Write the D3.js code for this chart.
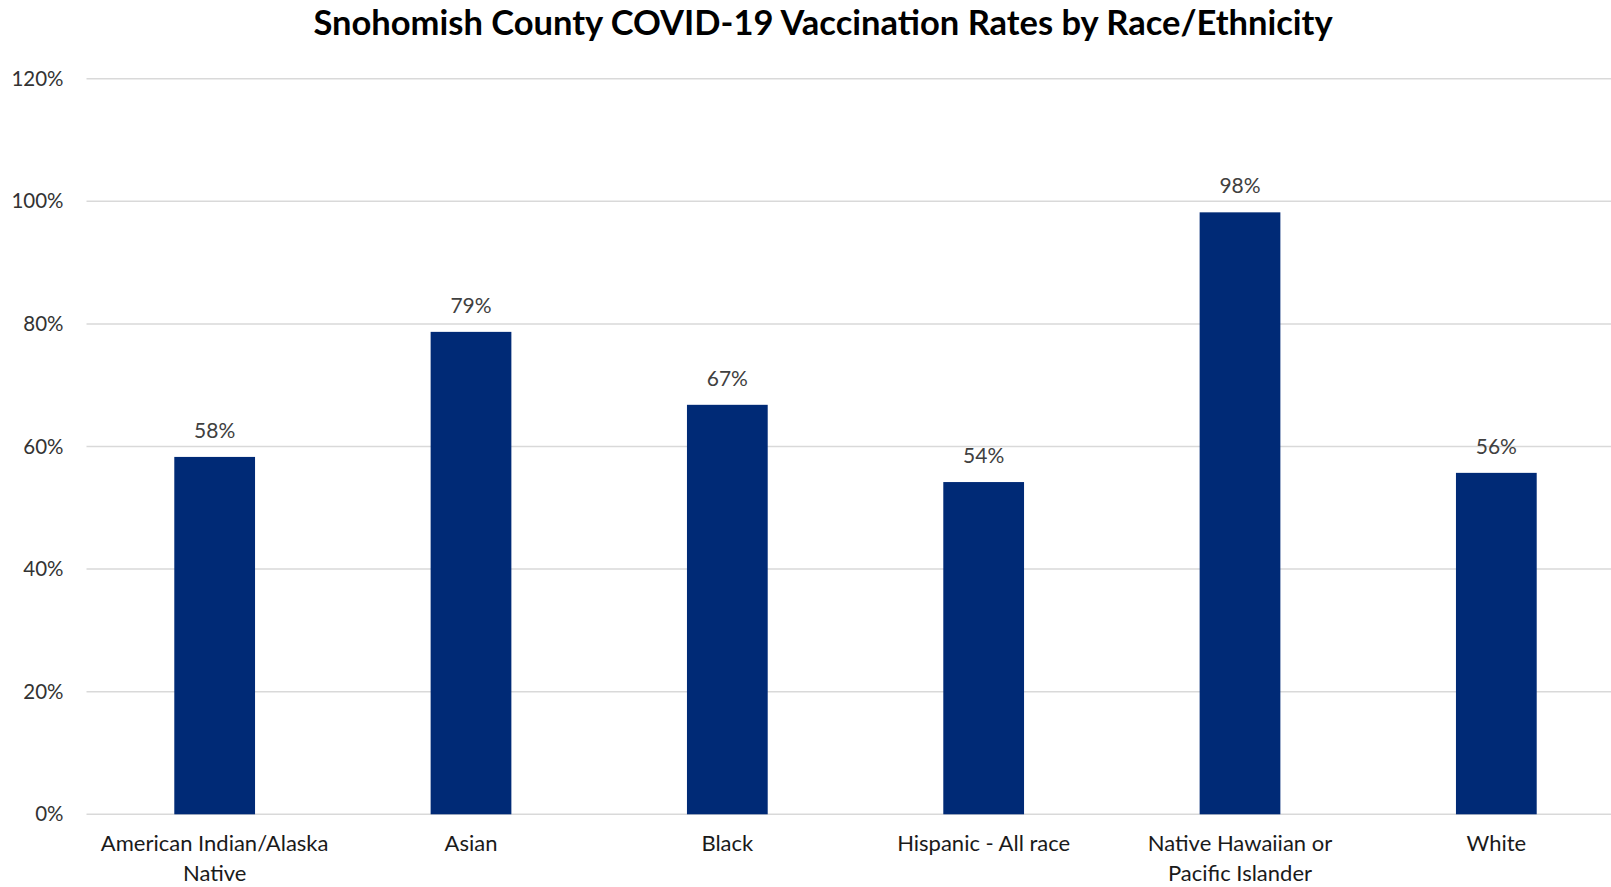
<!DOCTYPE html>
<html>
<head>
<meta charset="utf-8">
<script src="https://cdn.jsdelivr.net/npm/d3@7"></script>
<style>
  body { margin: 0; background: #fff; }
  svg { display: block; font-family: Lato, "Open Sans", sans-serif; }
</style>
</head>
<body>
<div id="chart"></div>
<script>
// data
const categories = ["American Indian/Alaska Native", "Asian", "Black", "Hispanic - All race", "Native Hawaiian or Pacific Islander", "White"];
const categoryLines = [["American Indian/Alaska", "Native"], ["Asian"], ["Black"], ["Hispanic - All race"], ["Native Hawaiian or", "Pacific Islander"], ["White"]];
const rates = [0.583, 0.787, 0.668, 0.542, 0.982, 0.557];
const yTicks = [0, 0.2, 0.4, 0.6, 0.8, 1.0, 1.2];
const titleText = "Snohomish County COVID-19 Vaccination Rates by Race/Ethnicity";

const W = 1611, H = 887;
const margin = { top: 78.7, right: -13.5, bottom: 72.7, left: 86.5 };
const width = W - margin.left - margin.right;
const height = H - margin.top - margin.bottom;

const svg = d3.select("#chart").append("svg")
  .attr("width", W)
  .attr("height", H);

svg.append("text")
  .attr("x", 823)
  .attr("y", 35)
  .attr("text-anchor", "middle")
  .attr("font-weight", 700)
  .attr("font-size", 34.5)
  .attr("fill", "#000")
  .text(titleText);

const g = svg.append("g")
  .attr("transform", `translate(${margin.left},${margin.top})`);

const x = d3.scaleBand()
  .domain(categories)
  .range([0, width])
  .paddingInner(0.685)
  .paddingOuter(0.3425);

const y = d3.scaleLinear()
  .domain([0, 1.2])
  .range([height, 0]);

const pct = d3.format(".0%");

// gridlines
g.append("g")
  .selectAll("line")
  .data(yTicks)
  .join("line")
  .attr("x1", 0)
  .attr("x2", width)
  .attr("y1", d => y(d))
  .attr("y2", d => y(d))
  .attr("stroke", "#d9d9d9")
  .attr("stroke-width", 1.5);

// y axis labels
const yAxis = d3.axisLeft(y).tickValues(yTicks).tickFormat(pct).tickSize(0).tickPadding(23);
g.append("g")
  .call(yAxis)
  .call(s => s.select(".domain").remove())
  .call(s => s.selectAll("text")
    .attr("font-family", "Lato, sans-serif")
    .attr("font-size", 20.5)
    .attr("fill", "#333"));

// bars
g.append("g")
  .selectAll("rect")
  .data(rates)
  .join("rect")
  .attr("x", (d, i) => x(categories[i]))
  .attr("width", x.bandwidth())
  .attr("y", d => y(d))
  .attr("height", d => y(0) - y(d))
  .attr("fill", "#002a76");

// value labels
g.append("g")
  .selectAll("text")
  .data(rates)
  .join("text")
  .attr("x", (d, i) => x(categories[i]) + x.bandwidth() / 2)
  .attr("y", d => y(d) - 19)
  .attr("text-anchor", "middle")
  .attr("font-size", 21)
  .attr("fill", "#404040")
  .text(d => pct(d));

// category labels
const cat = g.append("g")
  .selectAll("text")
  .data(categories)
  .join("text")
  .attr("text-anchor", "middle")
  .attr("font-size", 22)
  .attr("fill", "#1a1a1a")
  .attr("transform", d => `translate(${x(d) + x.bandwidth() / 2},${height + 37})`);

cat.selectAll("tspan")
  .data((d, i) => categoryLines[i])
  .join("tspan")
  .attr("x", 0)
  .attr("dy", (d, i) => i === 0 ? 0 : 30)
  .text(d => d);
</script>
</body>
</html>
